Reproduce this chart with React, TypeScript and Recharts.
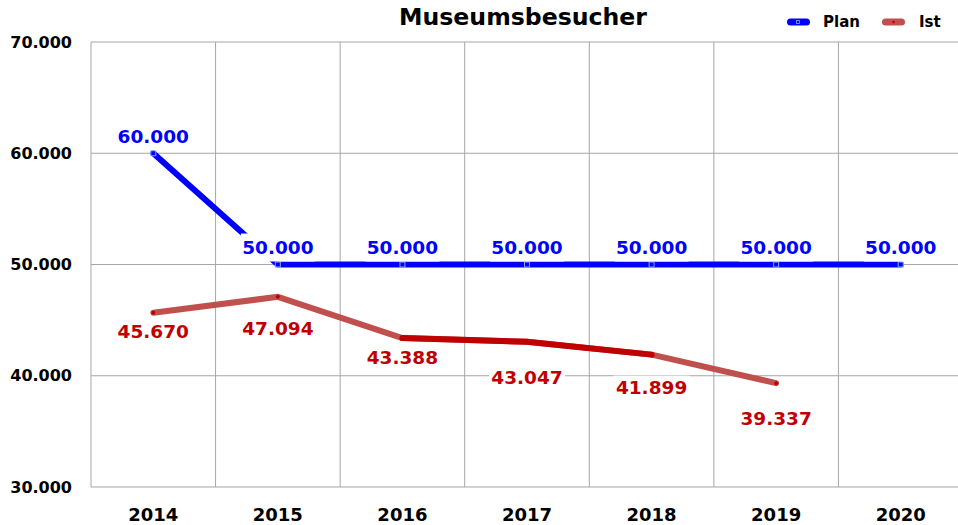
import React from 'react';
import { LineChart, Line, XAxis, YAxis, CartesianGrid, LabelList } from 'recharts';

const years = ['2014', '2015', '2016', '2017', '2018', '2019', '2020'];
const plan = [60000, 50000, 50000, 50000, 50000, 50000, 50000];
const ist: (number | null)[] = [45670, 47094, 43388, 43047, 41899, 39337, null];
const yTicks = [30000, 40000, 50000, 60000, 70000];

// in the original the Ist line is darker between 2016 and 2018
const istDarkFrom = 2;
const istDarkTo = 4;
// how far below the point each Ist label sits
const istLabelDy = [19, 32, 19, 36, 33, 35];

const FONT = '"DejaVu Sans", Verdana, sans-serif';
const BLUE = '#0000FF';
const RED = '#C0504D';
const DARK_RED = '#C00000';

const fmt = (v: number) => String(v).replace(/\B(?=(\d{3})+(?!\d))/g, '.');

const data = years.map((year, i) => ({
    year,
    plan: plan[i],
    ist: ist[i],
    istDark: i >= istDarkFrom && i <= istDarkTo ? ist[i] : null,
}));

const PlanLabel = (props: any) => {
    const { x, y, value } = props;
    if (value == null) return null;
    const cy = y - 17;
    return (
        <g>
            <rect x={x - 37} y={cy - 14} width={74} height={28} fill="#fff" />
            <text x={x} y={cy} textAnchor="middle" dominantBaseline="central"
                fontFamily={FONT} fontWeight="bold" fontSize={18.5} fill={BLUE}>
                {fmt(value)}
            </text>
        </g>
    );
};

const IstLabel = (props: any) => {
    const { x, y, value, index } = props;
    if (value == null) return null;
    const cy = y + (istLabelDy[index] ?? 25);
    return (
        <g>
            <rect x={x - 38} y={cy - 12} width={76} height={24} fill="#fff" />
            <text x={x} y={cy} textAnchor="middle" dominantBaseline="central"
                fontFamily={FONT} fontWeight="bold" fontSize={18.5} fill={DARK_RED}>
                {fmt(value)}
            </text>
        </g>
    );
};

const PlanDot = (props: any) => {
    const { cx, cy, index } = props;
    if (cx == null || cy == null) return null;
    return <rect key={`pd-${index}`} x={cx - 2.5} y={cy - 2.5} width={5} height={5}
        fill="none" stroke="#7FA8E8" strokeWidth={1} />;
};

const IstDot = (props: any) => {
    const { cx, cy, index } = props;
    if (cx == null || cy == null) return null;
    return <circle key={`id-${index}`} cx={cx} cy={cy} r={2} fill={DARK_RED} />;
};

const ChartLegend = () => (
    <div style={{
        position: 'absolute', top: 13, left: 787, display: 'flex', alignItems: 'center',
        fontFamily: FONT, fontWeight: 'bold', fontSize: 15, color: '#000', zIndex: 2,
    }}>
        <svg width={24} height={8}>
            <rect x={0} y={0.5} width={23} height={7} rx={3.5} fill={BLUE} />
            <rect x={9.5} y={2.5} width={3} height={3} fill="none" stroke="#7FA8E8" strokeWidth={0.8} />
        </svg>
        <span style={{ marginLeft: 12 }}>Plan</span>
        <svg width={24} height={8} style={{ marginLeft: 22 }}>
            <rect x={0} y={0.5} width={23} height={7} rx={3.5} fill={RED} />
            <circle cx={11.5} cy={4} r={1.3} fill={DARK_RED} />
        </svg>
        <span style={{ marginLeft: 13 }}>Ist</span>
    </div>
);

const verticalLines = ({ offset }: any) => {
    const n = years.length;
    const out: number[] = [];
    for (let i = 0; i <= n; i++) {
        out.push(offset.left + (offset.width * i) / n);
    }
    return out;
};

const App = () => {
    return (
        <div style={{ position: 'absolute', left: 0, top: 0, width: 958, height: 525, overflow: 'hidden', background: '#fff' }}>
            <div style={{
                position: 'absolute', left: 0, width: 1046, top: 3, textAlign: 'center',
                fontFamily: FONT, fontWeight: 'bold', fontSize: 23.6, color: '#000', zIndex: 2,
            }}>
                Museumsbesucher
            </div>
            <ChartLegend />
            <LineChart
                width={963}
                height={525}
                data={data}
                margin={{ top: 42, right: 0, bottom: 0, left: 0 }}
            >
                <CartesianGrid stroke="#A6A6A6" strokeWidth={1} verticalCoordinatesGenerator={verticalLines} />
                <XAxis
                    dataKey="year"
                    scale="band"
                    height={38}
                    axisLine={false}
                    tickLine={false}
                    tickSize={0}
                    tickMargin={21}
                    interval={0}
                    tick={{ fontFamily: FONT, fontWeight: 'bold', fontSize: 18, fill: '#000' }}
                />
                <YAxis
                    width={91}
                    domain={[30000, 70000]}
                    ticks={yTicks}
                    axisLine={false}
                    tickLine={false}
                    tickSize={0}
                    tickMargin={19}
                    tickFormatter={fmt}
                    tick={{ fontFamily: FONT, fontWeight: 'bold', fontSize: 16, fill: '#000' }}
                />
                <Line
                    dataKey="ist"
                    stroke={RED}
                    strokeWidth={6}
                    strokeLinecap="round"
                    strokeLinejoin="round"
                    dot={false}
                    activeDot={false}
                    isAnimationActive={false}
                />
                <Line
                    dataKey="istDark"
                    stroke={DARK_RED}
                    strokeWidth={6}
                    strokeLinecap="round"
                    dot={false}
                    activeDot={false}
                    isAnimationActive={false}
                />
                <Line
                    dataKey="ist"
                    stroke="none"
                    dot={IstDot}
                    activeDot={false}
                    isAnimationActive={false}
                >
                    <LabelList dataKey="ist" content={IstLabel} />
                </Line>
                <Line
                    dataKey="plan"
                    stroke={BLUE}
                    strokeWidth={6}
                    strokeLinecap="round"
                    strokeLinejoin="round"
                    dot={PlanDot}
                    activeDot={false}
                    isAnimationActive={false}
                >
                    <LabelList dataKey="plan" content={PlanLabel} />
                </Line>
            </LineChart>
        </div>
    );
};

export default App;
